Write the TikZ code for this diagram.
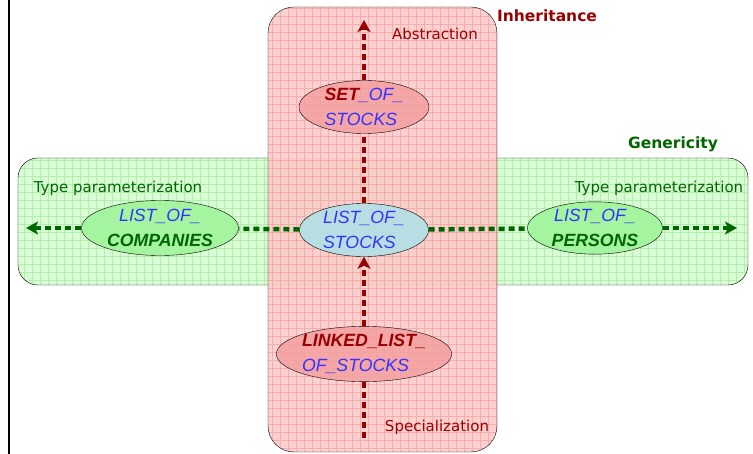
\documentclass[tikz,border=0pt]{standalone}
\usepackage{fontspec}
\setmainfont{Liberation Sans}
\newfontfamily\labelfont{DejaVu Sans}
\usetikzlibrary{shapes.geometric,arrows.meta}

\definecolor{inhred}{HTML}{990000}
\definecolor{gengreen}{HTML}{006600}
\definecolor{txtblue}{HTML}{3333FF}
\definecolor{redbox}{HTML}{FFC8C8}
\definecolor{redgrid}{HTML}{F4A4A4}
\definecolor{greenbox}{HTML}{D8FCD4}
\definecolor{greengrid}{HTML}{B4EEAC}
\definecolor{clsblue}{HTML}{B8DEE4}
\definecolor{clsred}{HTML}{F4A0A0}
\definecolor{clsgreen}{HTML}{A4F4A0}

\tikzset{
  cls/.style={ellipse,draw,thin,inner sep=0pt,align=left,
    font=\fontsize{17.7}{24.5}\selectfont\itshape},
  inhline/.style={inhred,line width=4.5pt,dash pattern=on 6pt off 4pt},
  genline/.style={gengreen,line width=4.5pt,dash pattern=on 6pt off 4pt},
  tip/.style={-{Stealth[length=12pt,width=13pt,inset=3pt]}},
  lbl/.style={font=\labelfont\fontsize{15}{18}\selectfont},
  head/.style={font=\labelfont\bfseries\fontsize{15.5}{18}\selectfont},
}

\begin{document}
\begin{tikzpicture}[x=1pt,y=-1pt]
 \useasboundingbox (0,0) rectangle (753,454);
 \draw[line width=2pt] (9,0) -- (9,454);
 % genericity band
 \fill[greenbox,rounded corners=20pt] (18,158) rectangle (748,285);
 \begin{scope}
  \clip[rounded corners=20pt] (18,158) rectangle (748,285);
  \draw[greengrid,line width=.3pt,step=8pt] (18,158) grid (748,285);
 \end{scope}
 \draw[rounded corners=20pt] (18,158) rectangle (748,285);
 % inheritance band
 \fill[redbox,rounded corners=26pt,fill opacity=.85] (268,7) rectangle (497,452);
 \begin{scope}
  \clip[rounded corners=26pt] (268,7) rectangle (497,452);
  \draw[redgrid,line width=.3pt,step=8pt,opacity=.8] (268,7) grid (497,452);
 \end{scope}
 \draw[rounded corners=26pt] (268,7) rectangle (497,452);

 \node[head,inhred] (inh) at (547,16) {Inheritance};
 \node[head,gengreen] (gen) at (673,144) {Genericity};
 \node[lbl,inhred] (abs) at (435,34) {Abstraction};
 \node[lbl,inhred] (spec) at (437,427) {Specialization};
 \node[lbl,gengreen] (tpl) at (118,188) {Type parameterization};
 \node[lbl,gengreen] (tpr) at (659,188) {Type parameterization};

 \node[cls,fill=clsred,fill opacity=.85,text opacity=1,minimum width=130pt,minimum height=53pt] (set) at (364,107)
   {\textcolor{inhred}{\bfseries SET}\textcolor{txtblue}{\_OF\_}\\\textcolor{txtblue}{STOCKS}};
 \node[cls,fill=clsblue,minimum width=129pt,minimum height=53pt] (los) at (364,230)
   {\textcolor{txtblue}{LIST\_OF\_}\\\textcolor{txtblue}{STOCKS}};
 \node[cls,align=center,fill=clsgreen,minimum width=157pt,minimum height=55pt] (loc) at (160,228)
   {\textcolor{txtblue}{LIST\_OF\_}\\\textcolor{gengreen}{\bfseries COMPANIES}};
 \node[cls,align=center,fill=clsgreen,minimum width=135pt,minimum height=51pt] (lop) at (595,228)
   {\textcolor{txtblue}{LIST\_OF\_}\\\textcolor{gengreen}{\bfseries PERSONS}};
 \node[cls,fill=clsred,fill opacity=.85,text opacity=1,minimum width=173pt,minimum height=52pt] (lls) at (364,354)
   {\textcolor{inhred}{\bfseries LINKED\_LIST\_}\\\textcolor{txtblue}{OF\_STOCKS}};

 \coordinate (top) at (364,20);
 \coordinate (bot) at (364,438);
 \coordinate (lft) at (26,228);
 \coordinate (rgt) at (737,228);

 \draw[inhline] (bot) -- (lls);
 \draw[inhline,tip] (lls) -- (los);
 \draw[inhline] (los) -- (set);
 \draw[inhline,tip] (set) -- (top);
 \draw[genline] (los) -- (loc);
 \draw[genline,tip] (loc) -- (lft);
 \draw[genline] (los) -- (lop);
 \draw[genline,tip] (lop) -- (rgt);
\end{tikzpicture}
\end{document}
